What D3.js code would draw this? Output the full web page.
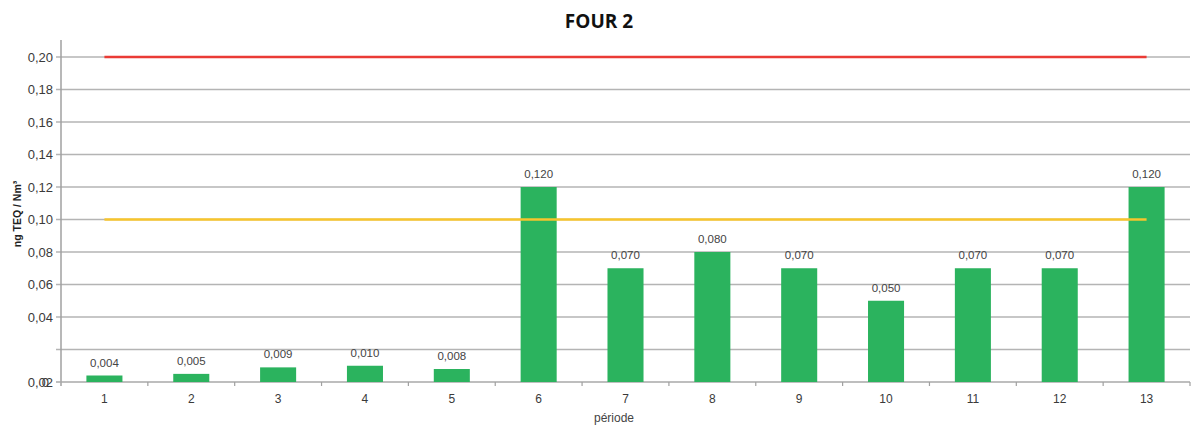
<!DOCTYPE html>
<html>
<head>
<meta charset="utf-8">
<script src="https://cdn.jsdelivr.net/npm/d3@7"></script>
<style>
  body { margin: 0; background: #fff; }
  text { font-family: "Liberation Sans", Arial, sans-serif; }
</style>
</head>
<body>
<div id="main"></div>
<script>
const periods = ["1", "2", "3", "4", "5", "6", "7", "8", "9", "10", "11", "12", "13"]
const values = [0.004, 0.005, 0.009, 0.010, 0.008, 0.120, 0.070, 0.080, 0.070, 0.050, 0.070, 0.070, 0.120]
const yTicks = [0.02, 0.04, 0.06, 0.08, 0.10, 0.12, 0.14, 0.16, 0.18, 0.20]
const limitRed = 0.20
const limitYellow = 0.10

let width = 1192,
    height = 429

const svg = d3.select("#main")
    .append("svg")
    .attr("width", width)
    .attr("height", height)

const x = d3.scaleBand()
    .domain(periods)
    .range([61, 1190])
    .paddingInner(0.585)
    .paddingOuter(0.2925)

const y = d3.scaleLinear()
    .domain([0, 0.2])
    .range([382, 57])

const fmt = v => v.toFixed(2).replace(".", ",")

// gridlines
svg.selectAll(".grid")
    .data(yTicks)
    .join("line")
    .attr("x1", 56)
    .attr("x2", 1190)
    .attr("y1", d => y(d))
    .attr("y2", d => y(d))
    .attr("stroke", "#b4b4b4")
    .attr("stroke-width", 1.5)

// y labels: the 0,02 label sits down at the baseline with the 0
svg.selectAll(".ylab")
    .data(yTicks)
    .join("text")
    .attr("x", 53)
    .attr("y", d => d == 0.02 ? y(0) : y(d))
    .attr("dy", "0.35em")
    .attr("text-anchor", "end")
    .attr("font-size", 13)
    .attr("fill", "#3a3a3a")
    .text(d => fmt(d))

svg.append("text")
    .attr("x", 49)
    .attr("y", y(0))
    .attr("dy", "0.35em")
    .attr("text-anchor", "end")
    .attr("font-size", 13)
    .attr("fill", "#3a3a3a")
    .text("0")

// y axis line
svg.append("line")
    .attr("x1", 61).attr("x2", 61)
    .attr("y1", 40).attr("y2", 386)
    .attr("stroke", "#a0a0a0")
    .attr("stroke-width", 1.5)

// bottom axis
svg.append("line")
    .attr("x1", 56).attr("x2", 1190)
    .attr("y1", y(0)).attr("y2", y(0))
    .attr("stroke", "#a8a8a8")
    .attr("stroke-width", 1.5)

svg.selectAll(".xtick")
    .data(periods)
    .join("line")
    .attr("x1", d => x(d) + x.bandwidth() / 2 + x.step() / 2)
    .attr("x2", d => x(d) + x.bandwidth() / 2 + x.step() / 2)
    .attr("y1", y(0))
    .attr("y2", y(0) + 4)
    .attr("stroke", "#a0a0a0")
    .attr("stroke-width", 1.2)

svg.selectAll(".xlab")
    .data(periods)
    .join("text")
    .attr("x", d => x(d) + x.bandwidth() / 2)
    .attr("y", 403)
    .attr("text-anchor", "middle")
    .attr("font-size", 12)
    .attr("fill", "#3a3a3a")
    .text(d => d)

// bars
svg.selectAll(".bar")
    .data(values)
    .join("rect")
    .attr("x", (d, i) => x(periods[i]))
    .attr("width", x.bandwidth())
    .attr("y", d => y(d))
    .attr("height", d => y(0) - y(d))
    .attr("fill", "#2bb35e")

svg.selectAll(".val")
    .data(values)
    .join("text")
    .attr("x", (d, i) => x(periods[i]) + x.bandwidth() / 2)
    .attr("y", d => y(d) - 9)
    .attr("text-anchor", "middle")
    .attr("font-size", 11.5)
    .attr("fill", "#444")
    .text(d => d.toFixed(3).replace(".", ","))

// limit lines
const xFirst = x(periods[0]) + x.bandwidth() / 2,
    xLast = x(periods[periods.length - 1]) + x.bandwidth() / 2

svg.append("line")
    .attr("x1", xFirst).attr("x2", xLast)
    .attr("y1", y(limitRed)).attr("y2", y(limitRed))
    .attr("stroke", "#ea3b35")
    .attr("stroke-width", 2.5)

svg.append("line")
    .attr("x1", xFirst).attr("x2", xLast)
    .attr("y1", y(limitYellow)).attr("y2", y(limitYellow))
    .attr("stroke", "#f7c52c")
    .attr("stroke-width", 2.5)

// titles
svg.append("text")
    .attr("x", 599)
    .attr("y", 28)
    .attr("text-anchor", "middle")
    .style("font-family", "'Open Sans', sans-serif")
    .attr("font-weight", "bold")
    .attr("font-size", 19)
    .attr("fill", "#111")
    .text("FOUR 2")

svg.append("text")
    .attr("transform", "translate(21,214) rotate(-90)")
    .attr("text-anchor", "middle")
    .attr("font-weight", "bold")
    .attr("font-size", 10.5)
    .attr("fill", "#222")
    .text("ng TEQ / Nm³")

svg.append("text")
    .attr("x", 614)
    .attr("y", 422)
    .attr("text-anchor", "middle")
    .attr("font-size", 12)
    .attr("fill", "#444")
    .text("période")
</script>
</body>
</html>
